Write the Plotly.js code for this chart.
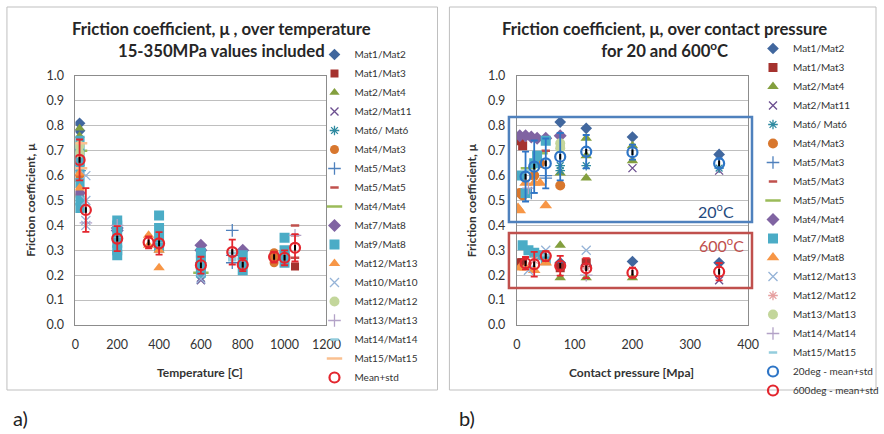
<!DOCTYPE html>
<html><head><meta charset="utf-8">
<script src="https://cdn.plot.ly/plotly-3.0.1.min.js"></script>
<style>html,body{margin:0;padding:0;background:#fff}#c{width:884px;height:434px}</style>
</head><body><div id="c"></div>
<script>
// ---------- Chart a) : friction coefficient vs temperature ----------
const T_Mat1Mat2 = [20, 20, 600];            const M_Mat1Mat2 = [0.81, 0.78, 0.25];
const T_Mat1Mat3 = [20, 1050];               const M_Mat1Mat3 = [0.59, 0.235];
const T_Mat2Mat4 = [20, 20, 600];            const M_Mat2Mat4 = [0.79, 0.76, 0.22];
const T_Mat2Mat11 = [20, 600, 600];          const M_Mat2Mat11 = [0.72, 0.18, 0.19];
const T_Mat6Mat6 = [20, 600];                const M_Mat6Mat6 = [0.64, 0.2];
const T_Mat4Mat3 = [20, 20, 950, 950, 950];  const M_Mat4Mat3 = [0.6, 0.52, 0.25, 0.27, 0.29];
const T_Mat5Mat3 = [20, 750, 750, 750];      const M_Mat5Mat3 = [0.62, 0.38, 0.28, 0.25];
const T_Mat5Mat5 = [20, 1050, 1050, 1050];   const M_Mat5Mat5 = [0.58, 0.4, 0.36, 0.27];
const T_Mat4Mat4 = [20, 600];                const M_Mat4Mat4 = [0.7, 0.21];
const T_Mat7Mat8 = [20, 200, 200, 600, 600, 800]; const M_Mat7Mat8 = [0.53, 0.38, 0.39, 0.32, 0.30, 0.30];
const T_Mat9Mat8 = [20, 20, 20, 20, 20, 20, 20, 200, 200, 200, 200, 200, 200, 400, 400, 400, 400, 600, 600, 600, 600, 800, 800, 800, 1000, 1000, 1000, 1000];
const M_Mat9Mat8 = [0.47, 0.5, 0.57, 0.63, 0.66, 0.7, 0.74, 0.28, 0.3, 0.33, 0.37, 0.4, 0.42, 0.31, 0.35, 0.39, 0.44, 0.21, 0.24, 0.26, 0.29, 0.22, 0.25, 0.28, 0.25, 0.28, 0.3, 0.35];
const T_Mat12Mat13 = [20, 20, 350, 350, 400, 400]; const M_Mat12Mat13 = [0.61, 0.55, 0.36, 0.32, 0.3, 0.23];
const T_Mat10Mat10 = [50, 50, 50, 50, 600];  const M_Mat10Mat10 = [0.6, 0.5, 0.42, 0.4, 0.185];
const T_Mat12Mat12 = [20, 20];               const M_Mat12Mat12 = [0.72, 0.69];
const T_Mat13Mat13 = [50, 200, 1050];        const M_Mat13Mat13 = [0.41, 0.4, 0.36];
const T_Mat14Mat14 = [750, 750, 750];        const M_Mat14Mat14 = [0.29, 0.27, 0.26];
const T_Mat15Mat15 = [20, 20];               const M_Mat15Mat15 = [0.73, 0.63];
const T_mean = [20, 50, 200, 350, 400, 600, 750, 800, 950, 1000, 1050];
const M_mean = [0.663, 0.462, 0.347, 0.332, 0.328, 0.24, 0.293, 0.242, 0.273, 0.27, 0.31];
const S_mean = [0.082, 0.088, 0.05, 0.024, 0.045, 0.034, 0.05, 0.026, 0.022, 0.03, 0.055];

// ---------- Chart b) : friction coefficient vs contact pressure ----------
const P_Mat1Mat2 = [75, 120, 200, 350, 75, 120, 200, 350]; const R_Mat1Mat2 = [0.815, 0.79, 0.755, 0.685, 0.25, 0.24, 0.255, 0.25];
const P_Mat1Mat3 = [5, 10, 5, 10, 120, 75];  const R_Mat1Mat3 = [0.74, 0.72, 0.25, 0.25, 0.25, 0.23];
const P_Mat2Mat4 = [75, 120, 120, 120, 200, 200, 75, 75, 120, 200]; const R_Mat2Mat4 = [0.61, 0.75, 0.68, 0.59, 0.72, 0.66, 0.32, 0.19, 0.19, 0.19];
const P_Mat2Mat11 = [200, 350, 350];         const R_Mat2Mat11 = [0.63, 0.62, 0.18];
const P_Mat6Mat6 = [75, 75, 120, 350];       const R_Mat6Mat6 = [0.62, 0.64, 0.64, 0.63];
const P_Mat4Mat3 = [5, 10, 30, 40, 75];      const R_Mat4Mat3 = [0.53, 0.52, 0.6, 0.65, 0.56];
const P_Mat5Mat3 = [25, 50, 50];             const R_Mat5Mat3 = [0.53, 0.59, 0.6];
const P_Mat5Mat3b = [50, 75];                const R_Mat5Mat3b = [0.70, 0.72];
const P_Mat5Mat5 = [20, 40];                 const R_Mat5Mat5 = [0.63, 0.69];
const P_Mat4Mat4 = [5, 15, 25, 35, 50, 75];  const R_Mat4Mat4 = [0.76, 0.76, 0.755, 0.75, 0.75, 0.76];
const P_Mat7Mat8 = [5, 15, 30, 35, 50, 10, 20, 30, 40, 50]; const R_Mat7Mat8 = [0.6, 0.53, 0.65, 0.68, 0.74, 0.32, 0.30, 0.29, 0.28, 0.26];
const P_Mat9Mat8 = [2, 5, 15, 30, 40, 50, 5, 15, 30, 50]; const R_Mat9Mat8 = [0.47, 0.46, 0.57, 0.57, 0.57, 0.48, 0.23, 0.23, 0.22, 0.25];
const P_Mat12Mat13 = [20, 50, 120];          const R_Mat12Mat13 = [0.22, 0.30, 0.30];
const P_Mat12Mat12 = [30, 120];              const R_Mat12Mat12 = [0.26, 0.23];
const P_Mat13Mat13 = [75, 75];               const R_Mat13Mat13 = [0.73, 0.71];
const P_Mat14Mat14 = [20, 120];              const R_Mat14Mat14 = [0.55, 0.2];
const P_Mat15Mat15 = [20, 50];               const R_Mat15Mat15 = [0.62, 0.28];
const P_mean20 = [15, 30, 50, 75, 120, 200, 350];
const R_mean20 = [0.596, 0.636, 0.649, 0.676, 0.696, 0.694, 0.649];
const S_mean20 = [0.1, 0.105, 0.1, 0.095, 0.067, 0.03, 0.02];
const P_mean600 = [15, 30, 50, 75, 120, 200, 350];
const R_mean600 = [0.248, 0.244, 0.277, 0.238, 0.228, 0.21, 0.214];
const S_mean600 = [0.025, 0.05, 0.02, 0.04, 0.04, 0.02, 0.035];

const xTicksA = [0, 200, 400, 600, 800, 1000, 1200];
const xTicksB = [0, 100, 200, 300, 400];
const yTicks = [0, 0.1, 0.2, 0.3, 0.4, 0.5, 0.6, 0.7, 0.8, 0.9, 1.0];

// ---------- styles ----------
const FONT = 'Lato, "Open Sans", sans-serif';
const W = 884, H = 434;
const px = v => v / W, py = v => 1 - v / H;

function mk(name, x, y, sym, color, size, lw, sub) {
  return {
    type: 'scatter', mode: 'markers', name: name, x: x, y: y,
    xaxis: sub === 2 ? 'x2' : 'x', yaxis: sub === 2 ? 'y2' : 'y',
    legend: sub === 2 ? 'legend2' : 'legend',
    marker: { symbol: sym, color: color, size: size, line: { width: lw, color: color } }
  };
}
function meanTrace(name, x, y, s, color, sub) {
  return {
    type: 'scatter', mode: 'markers', name: name, x: x, y: y,
    xaxis: sub === 2 ? 'x2' : 'x', yaxis: sub === 2 ? 'y2' : 'y',
    legend: sub === 2 ? 'legend2' : 'legend',
    marker: { symbol: 'circle-open', color: color, size: 10, line: { width: 2.2, color: color } },
    error_y: { type: 'data', array: s, visible: true, color: color, thickness: 1.8, width: 3.5 }
  };
}
function blackMark(x, y, sub) {
  return {
    type: 'scatter', mode: 'markers', x: x, y: y, showlegend: false, hoverinfo: 'skip',
    xaxis: sub === 2 ? 'x2' : 'x', yaxis: sub === 2 ? 'y2' : 'y',
    marker: { symbol: 'line-ns-open', color: '#000', size: 4, line: { width: 2, color: '#000' } }
  };
}

const C = {
  dblue: '#41679E', dred: '#A5322E', green: '#839F3E', purple: '#6B4E8F', teal: '#2F8AA0',
  orange: '#D8772E', blue: '#4F81BD', red: '#C0504D', lgreen: '#9BBB59', lpurple: '#8064A2',
  aqua: '#4BACC6', lorange: '#F79646', lblue: '#95B3D7', llgreen: '#C3D69B', llpurple: '#B3A2C7',
  laqua: '#93CDDD', llorange: '#FAC090', lred: '#E6A0A0'
};

const traces = [
  mk('Mat1/Mat2', T_Mat1Mat2, M_Mat1Mat2, 'diamond', C.dblue, 9, 0, 1),
  mk('Mat1/Mat3', T_Mat1Mat3, M_Mat1Mat3, 'square', C.dred, 8, 0, 1),
  mk('Mat2/Mat4', T_Mat2Mat4, M_Mat2Mat4, 'triangle-up', C.green, 9, 0, 1),
  mk('Mat2/Mat11', T_Mat2Mat11, M_Mat2Mat11, 'x-thin-open', C.purple, 8, 1.3, 1),
  mk('Mat6/ Mat6', T_Mat6Mat6, M_Mat6Mat6, 'asterisk-open', C.teal, 8, 1.3, 1),
  mk('Mat4/Mat3', T_Mat4Mat3, M_Mat4Mat3, 'circle', C.orange, 9, 0, 1),
  mk('Mat5/Mat3', T_Mat5Mat3, M_Mat5Mat3, 'cross-thin-open', C.blue, 9, 1.3, 1),
  mk('Mat5/Mat5', T_Mat5Mat5, M_Mat5Mat5, 'line-ew-open', C.red, 6, 2.5, 1),
  mk('Mat4/Mat4', T_Mat4Mat4, M_Mat4Mat4, 'line-ew-open', C.lgreen, 11, 2.5, 1),
  mk('Mat7/Mat8', T_Mat7Mat8, M_Mat7Mat8, 'diamond', C.lpurple, 10, 0, 1),
  mk('Mat9/Mat8', T_Mat9Mat8, M_Mat9Mat8, 'square', C.aqua, 10, 0, 1),
  mk('Mat12/Mat13', T_Mat12Mat13, M_Mat12Mat13, 'triangle-up', C.lorange, 10, 0, 1),
  mk('Mat10/Mat10', T_Mat10Mat10, M_Mat10Mat10, 'x-thin-open', C.lblue, 9, 1.3, 1),
  mk('Mat12/Mat12', T_Mat12Mat12, M_Mat12Mat12, 'circle', C.llgreen, 10, 0, 1),
  mk('Mat13/Mat13', T_Mat13Mat13, M_Mat13Mat13, 'cross-thin-open', C.llpurple, 9, 1.3, 1),
  mk('Mat14/Mat14', T_Mat14Mat14, M_Mat14Mat14, 'line-ew-open', C.laqua, 6, 2.5, 1),
  mk('Mat15/Mat15', T_Mat15Mat15, M_Mat15Mat15, 'line-ew-open', C.llorange, 11, 2.5, 1),
  meanTrace('Mean+std', T_mean, M_mean, S_mean, '#E3262E', 1),
  blackMark(T_mean, M_mean, 1),

  mk('Mat1/Mat2', P_Mat1Mat2, R_Mat1Mat2, 'diamond', C.dblue, 9, 0, 2),
  mk('Mat1/Mat3', P_Mat1Mat3, R_Mat1Mat3, 'square', C.dred, 9, 0, 2),
  mk('Mat2/Mat4', P_Mat2Mat4, R_Mat2Mat4, 'triangle-up', C.green, 10, 0, 2),
  mk('Mat2/Mat11', P_Mat2Mat11, R_Mat2Mat11, 'x-thin-open', C.purple, 8, 1.3, 2),
  mk('Mat6/ Mat6', P_Mat6Mat6, R_Mat6Mat6, 'asterisk-open', C.teal, 8, 1.3, 2),
  mk('Mat4/Mat3', P_Mat4Mat3, R_Mat4Mat3, 'circle', C.orange, 10, 0, 2),
  mk('Mat5/Mat3', P_Mat5Mat3, R_Mat5Mat3, 'cross-thin-open', C.blue, 9, 1.3, 2),
  mk('Mat5/Mat3', P_Mat5Mat3b, R_Mat5Mat3b, 'line-ew-open', C.red, 6, 2.5, 2),
  mk('Mat5/Mat5', P_Mat5Mat5, R_Mat5Mat5, 'line-ew-open', C.lgreen, 11, 2.5, 2),
  mk('Mat4/Mat4', P_Mat4Mat4, R_Mat4Mat4, 'diamond', C.lpurple, 10, 0, 2),
  mk('Mat7/Mat8', P_Mat7Mat8, R_Mat7Mat8, 'square', C.aqua, 10, 0, 2),
  mk('Mat9/Mat8', P_Mat9Mat8, R_Mat9Mat8, 'triangle-up', C.lorange, 11, 0, 2),
  mk('Mat12/Mat13', P_Mat12Mat13, R_Mat12Mat13, 'x-thin-open', C.lblue, 9, 1.3, 2),
  mk('Mat12/Mat12', P_Mat12Mat12, R_Mat12Mat12, 'asterisk-open', C.lred, 8, 1.3, 2),
  mk('Mat13/Mat13', P_Mat13Mat13, R_Mat13Mat13, 'circle', C.llgreen, 10, 0, 2),
  mk('Mat14/Mat14', P_Mat14Mat14, R_Mat14Mat14, 'cross-thin-open', C.llpurple, 9, 1.3, 2),
  mk('Mat15/Mat15', P_Mat15Mat15, R_Mat15Mat15, 'line-ew-open', C.laqua, 6, 2.5, 2),
  meanTrace('20deg - mean+std', P_mean20, R_mean20, S_mean20, '#2E75C6', 2),
  meanTrace('600deg - mean+std', P_mean600, R_mean600, S_mean600, '#E3262E', 2),
  blackMark(P_mean20, R_mean20, 2),
  blackMark(P_mean600, R_mean600, 2)
];

const axisCommon = {
  showline: true, mirror: true, linecolor: '#8C8C8C', linewidth: 1,
  zeroline: false, ticks: '', tickfont: { family: FONT, size: 12.5, color: '#333' }
};
const yDom = [py(325), py(76)];

function ann(x, y, text, font, extra) {
  return Object.assign({ xref: 'paper', yref: 'paper', x: px(x), y: py(y), xanchor: 'center', yanchor: 'middle',
    showarrow: false, align: 'center', text: text, font: font }, extra || {});
}
const titleFont = { family: FONT, size: 16.7, color: '#262626', weight: 'bold' };
const axFont = { family: FONT, size: 12, color: '#333', weight: 'bold' };
const legFont = { family: FONT, size: 10, color: '#333' };

const layout = {
  width: W, height: H, margin: { l: 0, r: 0, t: 0, b: 0 },
  paper_bgcolor: '#fff', plot_bgcolor: '#fff',
  font: { family: FONT, color: '#333' },
  xaxis: Object.assign({}, axisCommon, { domain: [px(76), px(329)], range: [0, 1200], tickvals: xTicksA,
    showgrid: false, anchor: 'y', ticklabelstandoff: 8 }),
  yaxis: Object.assign({}, axisCommon, { domain: yDom, range: [0, 1], tickvals: yTicks, tickformat: '.1f',
    showgrid: true, gridcolor: '#BFBFBF', gridwidth: 1, anchor: 'x', ticklabelstandoff: 8 }),
  xaxis2: Object.assign({}, axisCommon, { domain: [px(521), px(754)], range: [0, 400], tickvals: xTicksB,
    showgrid: false, anchor: 'y2', ticklabelstandoff: 8 }),
  yaxis2: Object.assign({}, axisCommon, { domain: yDom, range: [0, 1], tickvals: yTicks, tickformat: '.1f',
    showgrid: true, gridcolor: '#BFBFBF', gridwidth: 1, anchor: 'x2', ticklabelstandoff: 8 }),
  legend: { x: px(317), y: py(40), xanchor: 'left', yanchor: 'top', bgcolor: 'rgba(0,0,0,0)',
    font: legFont, tracegroupgap: 0, itemwidth: 30 },
  legend2: { x: px(759), y: py(34), xanchor: 'left', yanchor: 'top', bgcolor: 'rgba(0,0,0,0)',
    font: legFont, tracegroupgap: 0, itemwidth: 30 },
  shapes: [
    { type: 'rect', xref: 'paper', yref: 'paper', x0: px(7), x1: px(441), y0: py(390), y1: py(7),
      line: { color: '#BFBFBF', width: 1 } },
    { type: 'rect', xref: 'paper', yref: 'paper', x0: px(453), x1: px(883), y0: py(390), y1: py(7),
      line: { color: '#BFBFBF', width: 1 } },
    { type: 'rect', xref: 'paper', yref: 'paper', x0: px(513), x1: px(758), y0: py(222), y1: py(117),
      line: { color: '#4F81BD', width: 2.5 } },
    { type: 'rect', xref: 'paper', yref: 'paper', x0: px(513), x1: px(758), y0: py(288), y1: py(233),
      line: { color: '#C0504D', width: 2.5 } }
  ],
  annotations: [
    ann(223, 40, 'Friction coefficient, μ , over temperature<br>15-350MPa values included', titleFont),
    ann(670, 40, 'Friction coefficient, μ, over contact pressure<br>for 20 and 600<sup>o</sup>C', titleFont),
    ann(202, 372, 'Temperature [C]', axFont),
    ann(637, 372, 'Contact pressure [Mpa]', axFont),
    ann(30, 200, 'Friction coefficient, μ', axFont, { textangle: -90 }),
    ann(475, 200, 'Friction coefficient, μ', axFont, { textangle: -90 }),
    ann(722, 211, '20<sup>o</sup>C', { family: FONT, size: 16, color: '#1F497D' }),
    ann(727, 244, '600<sup>o</sup>C', { family: FONT, size: 16, color: '#C0504D' }),
    ann(21, 418, 'a)', { family: FONT, size: 20, color: '#222' }),
    ann(471, 418, 'b)', { family: FONT, size: 20, color: '#222' })
  ]
};

Plotly.newPlot('c', traces, layout, { staticPlot: true, displayModeBar: false });
</script>
</body></html>
